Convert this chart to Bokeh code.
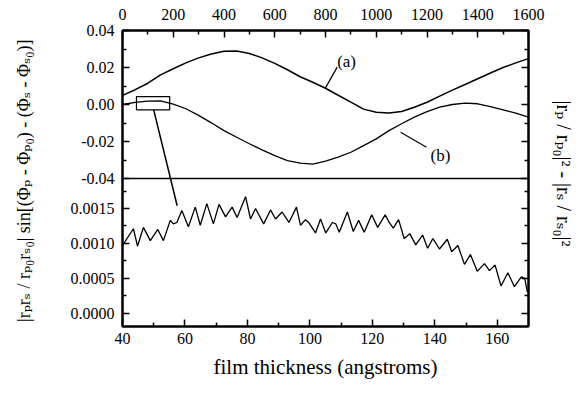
from bokeh.plotting import figure
from bokeh.models import Range1d, LinearAxis, FixedTicker, CustomJSTickFormatter, Span, Label
from bokeh.embed import file_html
from bokeh.resources import INLINE

# ---------------- data ----------------
# lower panel: film thickness (angstroms) vs cross term
thickness = [40.0, 43.5, 44.8, 46.7, 48.9, 51.3, 53.1, 55.3, 56.3, 57.4, 59.0, 61.1, 63.3,
             64.9, 67.0, 69.1, 70.9, 73.0, 75.1, 76.7, 79.4, 81.0, 82.6, 85.2, 87.4, 89.0,
             91.1, 93.3, 95.7, 97.0, 98.6, 99.6, 101.8, 103.4, 105.1, 107.2, 108.3, 109.4,
             112.0, 113.9, 115.6, 117.4, 119.8, 121.7, 124.1, 125.4, 126.7, 128.4, 130.2,
             132.0, 133.9, 136.1, 137.7, 139.4, 141.5, 144.0, 145.4, 147.4, 149.5, 151.4,
             153.6, 155.9, 157.5, 159.3, 161.2, 163.4, 165.5, 167.7, 168.8, 169.6, 170.0]
cross_term = [0.00097, 0.00121, 0.00096, 0.00123, 0.00104, 0.00120, 0.00104, 0.00133, 0.00128,
              0.00130, 0.00147, 0.00124, 0.00152, 0.00126, 0.00157, 0.00128, 0.00156, 0.00138,
              0.00152, 0.00137, 0.00167, 0.00135, 0.00150, 0.00128, 0.00148, 0.00135, 0.00145,
              0.00130, 0.00152, 0.00126, 0.00134, 0.00130, 0.00115, 0.00135, 0.00115, 0.00130,
              0.00128, 0.00116, 0.00145, 0.00117, 0.00133, 0.00116, 0.00141, 0.00123, 0.00141,
              0.00130, 0.00122, 0.00134, 0.00107, 0.00114, 0.00098, 0.00112, 0.00093, 0.00107,
              0.00092, 0.00106, 0.00088, 0.00097, 0.00070, 0.00084, 0.00060, 0.00071, 0.00061,
              0.00069, 0.00039, 0.00058, 0.00038, 0.00052, 0.00050, 0.00031, 0.00032]

# upper panel: film thickness (angstroms, top axis) vs reflectance difference
thickness_top = [0, 50, 100, 150, 200, 250, 300, 350, 400, 450, 500, 550, 600, 650, 700, 750,
                 800, 850, 900, 950, 1000, 1050, 1100, 1150, 1200, 1250, 1300, 1350, 1400,
                 1450, 1500, 1550, 1600]
curve_a = [0.0049, 0.0080, 0.0115, 0.0160, 0.0193, 0.0225, 0.0252, 0.0273, 0.0288, 0.0289,
           0.0276, 0.0252, 0.0222, 0.0188, 0.0150, 0.0120, 0.0088, 0.0050, 0.0013, -0.0025,
           -0.0042, -0.0046, -0.0038, -0.0015, 0.0012, 0.0045, 0.0078, 0.0108, 0.0139, 0.0170,
           0.0200, 0.0225, 0.0248]
curve_b = [0.0000, 0.0012, 0.0018, 0.0020, 0.0002, -0.0023, -0.0059, -0.0099, -0.0141, -0.0177,
           -0.0212, -0.0245, -0.0276, -0.0303, -0.0317, -0.0322, -0.0306, -0.0285, -0.0258,
           -0.0222, -0.0186, -0.0141, -0.0104, -0.0068, -0.0038, -0.0014, 0.0000, 0.0007,
           0.0004, -0.0011, -0.0029, -0.0047, -0.0068]

top_xticks = [0, 200, 400, 600, 800, 1000, 1200, 1400, 1600]
bottom_xticks = [40, 60, 80, 100, 120, 140, 160]
top_yticks = [-0.04, -0.02, 0.00, 0.02, 0.04]
bottom_yticks = [0.0000, 0.0005, 0.0010, 0.0015]

# ---------------- scales ----------------
B_LO, B_HI = -0.00019, 0.00193      # lower panel y range
T_LO, T_HI = -0.04, 0.04            # upper panel y range
X_LO, X_HI = 40, 170                # lower panel x range
XT_LO, XT_HI = 0, 1600              # upper panel x range

M_LO, M_HI = B_LO, B_HI + (B_HI - B_LO)          # main y range spans both halves
TE_LO, TE_HI = T_LO - (T_HI - T_LO), T_HI         # upper-panel range extended to full frame


def ty(v):
    return M_LO + (v - TE_LO) / (TE_HI - TE_LO) * (M_HI - M_LO)


def tx(x):
    return X_LO + (x - XT_LO) / (XT_HI - XT_LO) * (X_HI - X_LO)


def minors(ticks, lo, hi):
    step = ticks[1] - ticks[0]
    out = [t + step / 2 for t in ticks] + [ticks[0] - step / 2]
    return [m for m in out if lo < m < hi]


FONT = "'Liberation Serif', 'Times New Roman', 'DejaVu Serif', serif"

p = figure(width=584, height=386,
           x_range=Range1d(X_LO, X_HI), y_range=Range1d(M_LO, M_HI),
           output_backend="svg", toolbar_location=None,
           min_border_left=122, min_border_right=56, min_border_top=30, min_border_bottom=60)
p.extra_x_ranges = {"top": Range1d(XT_LO, XT_HI)}
p.extra_y_ranges = {"top": Range1d(TE_LO, TE_HI)}
p.grid.visible = False
p.outline_line_color = "black"
p.outline_line_width = 2
p.background_fill_color = "white"
p.border_fill_color = "white"


def style(ax):
    ax.axis_line_color = "black"
    ax.axis_line_width = 2
    ax.major_tick_in = 7
    ax.major_tick_out = 0
    ax.minor_tick_in = 4
    ax.minor_tick_out = 0
    ax.major_tick_line_color = "black"
    ax.minor_tick_line_color = "black"
    ax.major_tick_line_width = 1.5
    ax.minor_tick_line_width = 1.5
    ax.major_label_text_font = FONT
    ax.major_label_text_font_size = "16px"
    ax.major_label_text_color = "black"
    ax.axis_label_text_font = FONT
    ax.axis_label_text_font_style = "normal"
    ax.axis_label_text_color = "black"


# y ticks of both halves expressed in main coordinates
left_major = bottom_yticks + [ty(v) for v in top_yticks]
left_minor = minors(bottom_yticks, B_LO, B_HI) + [ty(v) for v in minors(top_yticks, T_LO, T_HI)]
y_ticker = FixedTicker(ticks=left_major, minor_ticks=left_minor)

left = p.yaxis[0]
style(left)
left.ticker = y_ticker
left.major_label_standoff = 8
left.formatter = CustomJSTickFormatter(
    args=dict(split=B_HI - 0.1 * (B_HI - B_LO), tlo=TE_LO, thi=TE_HI, mlo=M_LO, mhi=M_HI),
    code="""
if (tick > split) {
  const v = tlo + (tick - mlo) / (mhi - mlo) * (thi - tlo);
  let r = Math.round(v * 100) / 100;
  if (Math.abs(r) < 1e-9) { r = 0; }
  return r.toFixed(2);
}
return tick.toFixed(4);
""")
left.axis_label = "|rₚrₛ / rₚ₀rₛ₀|  sin[(Φₚ - Φₚ₀) - (Φₛ - Φₛ₀)]"
left.axis_label_text_font_size = "18px"
left.axis_label_standoff = 34

right = LinearAxis(ticker=y_ticker, formatter=CustomJSTickFormatter(code="return '';"))
style(right)
right.major_label_standoff = 5
right.axis_label = "|rₚ / rₚ₀|²  -  |rₛ / rₛ₀|²"
right.axis_label_text_font_size = "20px"
right.axis_label_standoff = 24
p.add_layout(right, "right")

bottom = p.xaxis[0]
style(bottom)
bottom.ticker = FixedTicker(ticks=bottom_xticks, minor_ticks=minors(bottom_xticks, X_LO, X_HI))
bottom.major_label_standoff = 6
bottom.axis_label = "film thickness (angstroms)"
bottom.axis_label_text_font_size = "21px"
bottom.axis_label_standoff = 8

top = LinearAxis(x_range_name="top",
                 ticker=FixedTicker(ticks=top_xticks, minor_ticks=minors(top_xticks, XT_LO, XT_HI)))
style(top)
top.major_label_standoff = 11
p.add_layout(top, "above")

# ---------------- marks ----------------
p.line(thickness, cross_term, line_color="black", line_width=1.3)
p.line(thickness_top, curve_a, x_range_name="top", y_range_name="top",
       line_color="black", line_width=1.5)
p.line(thickness_top, curve_b, x_range_name="top", y_range_name="top",
       line_color="black", line_width=1.3)

# divider between the two panels
p.add_layout(Span(location=ty(T_LO), dimension="width", line_color="black", line_width=1.5))

# zoom box and its leader into the lower panel
p.quad(left=[tx(55)], right=[tx(186)], top=[ty(0.0043)], bottom=[ty(-0.0029)],
       fill_color=None, line_color="black", line_width=1.2)
p.line([tx(123), 57.5], [ty(-0.0029), 0.00154], line_color="black", line_width=1.5)

# curve labels and leaders
p.line([tx(846), tx(800)], [ty(0.0202), ty(0.0090)], line_color="black", line_width=1.2)
p.line([tx(1198), tx(1096)], [ty(-0.0231), ty(-0.0150)], line_color="black", line_width=1.2)
p.add_layout(Label(x=tx(883), y=ty(0.0235), text="(a)", text_align="center",
                   text_baseline="middle", text_font=FONT, text_font_size="17px",
                   text_color="black"))
p.add_layout(Label(x=tx(1253), y=ty(-0.0273), text="(b)", text_align="center",
                   text_baseline="middle", text_font=FONT, text_font_size="17px",
                   text_color="black"))

open("out.html", "w").write(file_html(p, INLINE))
